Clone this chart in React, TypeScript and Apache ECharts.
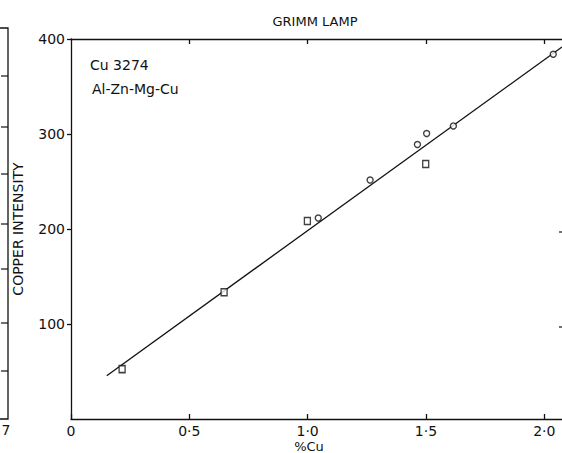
import React, { useEffect, useRef } from "react";
import * as echarts from "echarts";

// Data
const squarePoints: [number, number][] = [
  [0.216, 52.5],
  [0.647, 133.5],
  [0.999, 208.5],
  [1.499, 268.5],
];
const circlePoints: [number, number][] = [
  [1.045, 211.5],
  [1.264, 251.5],
  [1.464, 289],
  [1.503, 300.5],
  [1.616, 308.5],
  [2.038, 384],
];
const fitLine: [number, number][] = [
  [0.151, 45.6],
  [2.075, 391.6],
];
const xTicks = [0, 0.5, 1.0, 1.5, 2.0];
const yTicks = [100, 200, 300, 400];
const titleText = "GRIMM LAMP";
const yName = "COPPER INTENSITY";
const xName = "%Cu";
const notes = ["Cu 3274", "Al-Zn-Mg-Cu"];

const FONT = "DejaVu Sans";
const INK = "#111";

export default function App() {
  const ref = useRef<HTMLDivElement>(null);
  useEffect(() => {
    if (!ref.current) return;
    const chart = echarts.init(ref.current, undefined, { renderer: "svg" });
    const fmtX = (v: number) => (v === 0 ? "0" : v.toFixed(1).replace(".", "\u00b7"));
    const leftPanelTicks = [76, 127, 174, 224, 269, 323, 371];
    chart.setOption({
      animation: false,
      backgroundColor: "#fff",
      title: {
        text: titleText,
        left: 310,
        top: 10,
        textAlign: "center",
        textStyle: { fontFamily: FONT, fontSize: 13, fontWeight: "normal", color: INK },
      },
      grid: { left: 71, top: 39, right: 0, bottom: 34, containLabel: false },
      xAxis: [
        {
          type: "value",
          min: 0,
          max: 2.075,
          interval: 0.5,
          position: "bottom",
          splitLine: { show: false },
          axisLine: { show: true, lineStyle: { color: INK, width: 1.3 } },
          axisTick: {
            show: true,
            inside: true,
            length: 5,
            customValues: xTicks,
            lineStyle: { color: INK, width: 1.3 },
          },
          axisLabel: {
            customValues: xTicks,
            formatter: fmtX,
            margin: 5,
            fontFamily: FONT,
            fontSize: 14,
            lineHeight: 14,
            color: INK,
          },
        },
        {
          type: "value",
          min: 0,
          max: 2.075,
          interval: 0.5,
          position: "top",
          splitLine: { show: false },
          axisLine: { show: true, lineStyle: { color: INK, width: 1.3 } },
          axisTick: {
            show: true,
            inside: true,
            length: 5,
            customValues: xTicks.slice(1),
            lineStyle: { color: INK, width: 1.3 },
          },
          axisLabel: { show: false },
        },
      ],
      yAxis: {
        type: "value",
        min: 0,
        max: 400,
        interval: 100,
        name: yName,
        nameLocation: "middle",
        nameRotate: 90,
        nameGap: 46,
        nameTextStyle: { fontFamily: FONT, fontSize: 14, color: INK },
        splitLine: { show: false },
        axisLine: { show: true, lineStyle: { color: INK, width: 1.3 } },
        axisTick: {
          show: true,
          inside: false,
          length: 4,
          customValues: yTicks,
          lineStyle: { color: INK, width: 1.3 },
        },
        axisLabel: {
          customValues: yTicks,
          margin: 6,
          fontFamily: FONT,
          fontSize: 14,
          color: INK,
        },
      },
      series: [
        {
          type: "line",
          data: fitLine,
          symbol: "none",
          lineStyle: { color: INK, width: 1.3 },
          z: 1,
        },
        {
          type: "scatter",
          data: circlePoints,
          symbol: "circle",
          symbolSize: 6,
          itemStyle: { color: "#fff", borderColor: INK, borderWidth: 1.4 },
          z: 3,
        },
        {
          type: "scatter",
          data: squarePoints,
          symbol: "rect",
          symbolSize: [6, 7],
          itemStyle: { color: "#fff", borderColor: INK, borderWidth: 1.4 },
          z: 3,
        },
      ],
      graphic: [
        {
          type: "text",
          left: 90,
          top: 58,
          style: { text: notes[0], fontFamily: FONT, fontSize: 14, fill: INK },
        },
        {
          type: "text",
          left: 92,
          top: 82,
          style: { text: notes[1], fontFamily: FONT, fontSize: 14, fill: INK },
        },
        {
          type: "text",
          x: 309,
          y: 446,
          style: {
            text: xName,
            fontFamily: FONT,
            fontSize: 13,
            lineHeight: 13,
            fill: INK,
            align: "center",
            verticalAlign: "middle",
          },
        },
        // edge of the neighbouring panel on the left
        {
          type: "polyline",
          shape: { points: [[0, 28], [8, 28], [8, 419], [0, 419]] },
          style: { stroke: INK, lineWidth: 1.3, fill: "none" },
        },
        ...leftPanelTicks.map((y) => ({
          type: "line",
          shape: { x1: 1, y1: y, x2: 8, y2: y },
          style: { stroke: INK, lineWidth: 1.2 },
        })),
        {
          type: "text",
          x: 6,
          y: 430,
          style: {
            text: "7",
            fontFamily: FONT,
            fontSize: 14,
            fill: INK,
            align: "center",
            verticalAlign: "middle",
          },
        },
        // tick stubs from the neighbouring panel on the right
        {
          type: "line",
          shape: { x1: 559, y1: 232, x2: 562, y2: 232 },
          style: { stroke: INK, lineWidth: 1.2 },
        },
        {
          type: "line",
          shape: { x1: 559, y1: 327, x2: 562, y2: 327 },
          style: { stroke: INK, lineWidth: 1.2 },
        },
      ],
    });
    return () => chart.dispose();
  }, []);
  return (
    <div
      ref={ref}
      style={{ position: "fixed", left: 0, top: 0, width: 562, height: 453 }}
    />
  );
}
